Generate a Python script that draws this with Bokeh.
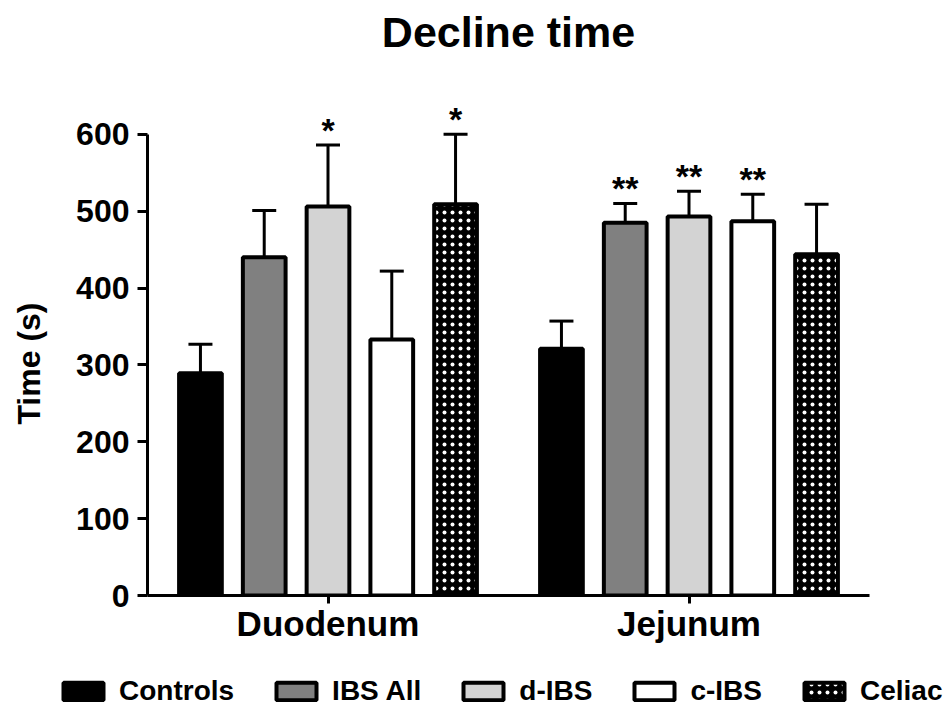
from bokeh.plotting import figure
from bokeh.models import (Range1d, FixedTicker, Whisker, TeeHead, ColumnDataSource,
                          Legend, LegendItem)
from bokeh.core.properties import value
from bokeh.embed import file_html
from bokeh.resources import INLINE

# ---- data ----
regions = ["Duodenum", "Jejunum"]
groups = ["Controls", "IBS All", "d-IBS", "c-IBS", "Celiac"]
mean_duodenum = [289, 440, 506, 333, 509]
sem_duodenum = [38, 61, 80, 89, 91]
mean_jejunum = [321, 485, 493, 487, 444]
sem_jejunum = [36, 25, 33, 35, 65]
stars_duodenum = ["", "", "*", "", "*"]
stars_jejunum = ["", "**", "**", "**", ""]
y_ticks = [0, 100, 200, 300, 400, 500, 600]

# ---- styling ----
fills = ["black", "#808080", "#d3d3d3", "white", "black"]
hatches = [None, None, None, None, "dot"]
FONT = "Liberation Sans"
region_centers = [0, 6]
bar_step = 1.06
bar_width = 0.71


def bar_style(i):
    kw = dict(fill_color=fills[i], line_color="black", line_width=4)
    if hatches[i]:
        kw.update(hatch_pattern=hatches[i], hatch_color="white", hatch_scale=8)
    return kw


p = figure(width=944, height=650, output_backend="svg", toolbar_location=None,
           x_range=Range1d(-3.0, 9.0), y_range=Range1d(0, 696),
           min_border_left=147, min_border_right=75, min_border_top=60,
           min_border_bottom=55, title="Decline time")
p.outline_line_color = None
p.grid.visible = False
p.background_fill_color = "white"
p.border_fill_color = "white"

p.title.text_font = FONT
p.title.text_font_size = "43px"
p.title.text_font_style = "bold"
p.title.text_color = "black"
p.title.align = "center"

# legend strip below the chart (separate root, so frames are not aligned)
lg = figure(width=944, height=55, output_backend="svg", toolbar_location=None,
            x_axis_location=None, y_axis_location=None,
            x_range=Range1d(0, 1), y_range=Range1d(0, 1),
            min_border=0, min_border_left=0, min_border_right=0,
            min_border_top=0, min_border_bottom=0)
lg.outline_line_color = None
lg.grid.visible = False

legend_items = []
for i, g in enumerate(groups):
    xs = [c + (i - 2) * bar_step for c in region_centers]
    tops = [mean_duodenum[i], mean_jejunum[i]]
    uppers = [mean_duodenum[i] + sem_duodenum[i], mean_jejunum[i] + sem_jejunum[i]]
    stars = [stars_duodenum[i], stars_jejunum[i]]
    src = ColumnDataSource(dict(x=xs, top=tops, upper=uppers, star=stars))
    w = Whisker(source=src, base="x", upper="upper", lower="top", dimension="height",
                line_width=3, line_color="black",
                upper_head=TeeHead(size=24, line_width=3, line_color="black"),
                lower_head=None)
    p.add_layout(w)
    p.vbar(x="x", top="top", bottom=0, width=bar_width, source=src, **bar_style(i))
    p.text(x="x", y="upper", text="star", source=src, text_align="center",
           text_baseline="alphabetic", text_font=value(FONT), text_font_style="bold",
           text_font_size="34px", text_color="black", y_offset=-15)
    # hidden legend proxy: only its style is used by the legend swatch
    r = lg.vbar(x=[0.5], top=[1], bottom=[0], width=0.1, visible=False, **bar_style(i))
    legend_items.append(LegendItem(label=g, renderers=[r]))

# axes
ya = p.yaxis[0]
ya.ticker = FixedTicker(ticks=y_ticks)
ya.bounds = (0, 600)
ya.axis_line_width = 3
ya.major_tick_line_width = 3
ya.major_tick_out = 10
ya.major_tick_in = 0
ya.minor_tick_line_color = None
ya.major_label_text_font = FONT
ya.major_label_text_font_size = "32px"
ya.major_label_text_font_style = "bold"
ya.major_label_text_color = "black"
ya.major_label_standoff = 8
ya.axis_label = "Time (s)" + "\u00a0" * 8
ya.axis_label_text_font = FONT
ya.axis_label_text_font_size = "32px"
ya.axis_label_text_font_style = "bold"
ya.axis_label_text_color = "black"
ya.axis_label_standoff = 26

xa = p.xaxis[0]
xa.ticker = FixedTicker(ticks=region_centers)
xa.major_label_overrides = {c: r for c, r in zip(region_centers, regions)}
xa.axis_line_width = 3
xa.major_tick_line_width = 3
xa.major_tick_out = 8
xa.major_tick_in = 0
xa.minor_tick_line_color = None
xa.major_label_text_font = FONT
xa.major_label_text_font_size = "35px"
xa.major_label_text_font_style = "bold"
xa.major_label_text_color = "black"
xa.major_label_standoff = 0

legend = Legend(items=legend_items, orientation="horizontal", location=(58, -2),
                glyph_width=50, glyph_height=22, label_standoff=11, spacing=37,
                label_text_font=FONT, label_text_font_size="28px",
                label_text_font_style="bold", label_text_color="black",
                inactive_fill_alpha=0,
                border_line_color=None, background_fill_alpha=0, padding=0, margin=0)
lg.add_layout(legend, "center")

open("out.html", "w").write(file_html([p, lg], INLINE))
